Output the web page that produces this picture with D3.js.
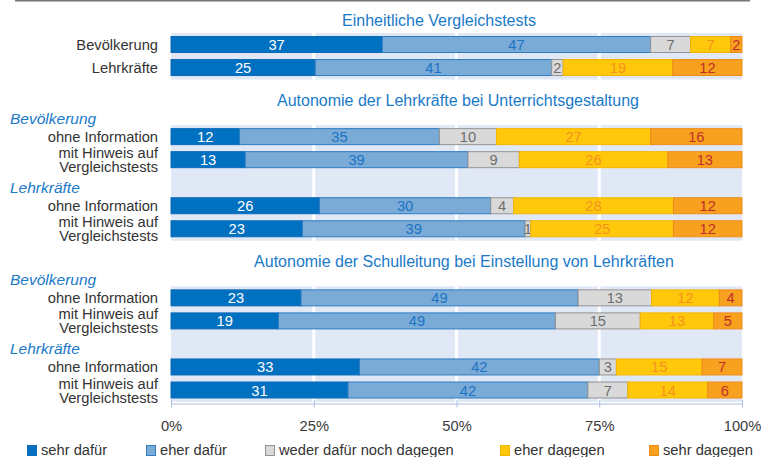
<!DOCTYPE html>
<html>
<head>
<meta charset="utf-8">
<title>Vergleichstests</title>
<script src="https://cdn.jsdelivr.net/npm/d3@7"></script>
<style>
  body { margin: 0; background: #fff; }
  svg text { font-family: "Liberation Sans", Arial, sans-serif; }
</style>
</head>
<body>
<svg id="chart" width="761" height="457"></svg>
<script>
// answer categories (stack order, left to right)
var categories = ["sehr dafür", "eher dafür", "weder dafür noch dagegen", "eher dagegen", "sehr dagegen"];

var sectionTitles = [
  "Einheitliche Vergleichstests",
  "Autonomie der Lehrkräfte bei Unterrichtsgestaltung",
  "Autonomie der Schulleitung bei Einstellung von Lehrkräften"
];

// one entry per bar
var rowSection = [0, 0, 1, 1, 1, 1, 2, 2, 2, 2];
var rowGroup = ["", "", "Bevölkerung", "Bevölkerung", "Lehrkräfte", "Lehrkräfte",
                "Bevölkerung", "Bevölkerung", "Lehrkräfte", "Lehrkräfte"];
var rowLabels = ["Bevölkerung", "Lehrkräfte",
                 "ohne Information", "mit Hinweis auf|Vergleichstests",
                 "ohne Information", "mit Hinweis auf|Vergleichstests",
                 "ohne Information", "mit Hinweis auf|Vergleichstests",
                 "ohne Information", "mit Hinweis auf|Vergleichstests"];

var sehrDafuer  = [37, 25, 12, 13, 26, 23, 23, 19, 33, 31];
var eherDafuer  = [47, 41, 35, 39, 30, 39, 49, 49, 42, 42];
var weder       = [7, 2, 10, 9, 4, 1, 13, 15, 3, 7];
var eherDagegen = [7, 19, 27, 26, 28, 25, 12, 13, 15, 14];
var sehrDagegen = [2, 12, 16, 13, 12, 12, 4, 5, 7, 6];

var tickValues = [0, 0.25, 0.5, 0.75, 1];

// styles
var fill = ["#0070c0", "#7aaad6", "#d9d9d9", "#ffc80b", "#f7a11e"];
var stroke = ["#0a6ab8", "#2e7dc3", "#939393", "#f5b400", "#ef8b1b"];
var textColor = ["#ffffff", "#1b74c5", "#6e6e6e", "#f5921e", "#c0302a"];
var titleX = [439, 458, 464];
var legendX = [27, 146, 265, 500, 649];
var fontSize = 14.7;

var svg = d3.select("#chart");

// build the row slots, with empty slots between sections and groups
var slots = [], rowSlot = [];
for (var i = 0; i < rowLabels.length; ++i) {
  if (i > 0 && rowSection[i] != rowSection[i - 1]) {
    slots.push("gap" + i + "a", "gap" + i + "b");
  } else if (i > 0 && rowGroup[i] != rowGroup[i - 1]) {
    slots.push("gap" + i);
  }
  rowSlot.push("row" + i);
  slots.push("row" + i);
}

var x = d3.scaleLinear().domain([0, 1]).range([171, 742]);
var y = d3.scalePoint().domain(slots).range([44.5, 390]);
var barH = 16;

var table = rowLabels.map(function(l, i) {
  var r = {};
  r[categories[0]] = sehrDafuer[i];
  r[categories[1]] = eherDafuer[i];
  r[categories[2]] = weder[i];
  r[categories[3]] = eherDagegen[i];
  r[categories[4]] = sehrDagegen[i];
  return r;
});
var series = d3.stack().keys(categories).offset(d3.stackOffsetExpand)(table);

// top rule
svg.append("line").attr("x1", 15).attr("x2", 750).attr("y1", 0.75).attr("y2", 0.75)
  .attr("stroke", "#777").attr("stroke-width", 1.5);

// section backgrounds, gridlines and titles
sectionTitles.forEach(function(title, s) {
  var idx = d3.range(rowLabels.length).filter(function(i) { return rowSection[i] == s; });
  var top = y(rowSlot[idx[0]]) - 11.5;
  var bottom = y(rowSlot[idx[idx.length - 1]]) + 12;
  svg.append("rect").attr("x", x(0)).attr("width", x(1) - x(0))
    .attr("y", top).attr("height", bottom - top).attr("fill", "#e1e8f5");
  svg.selectAll(null).data([0.25, 0.5, 0.75]).enter().append("line")
    .attr("x1", function(d) { return x(d); }).attr("x2", function(d) { return x(d); })
    .attr("y1", top).attr("y2", bottom)
    .attr("stroke", "#fff").attr("stroke-width", 3);
  var ty = y(rowSlot[idx[0]]) - 18.5 - (rowGroup[idx[0]] ? 12 : 0);
  svg.append("text").attr("x", titleX[s]).attr("y", ty)
    .attr("text-anchor", "middle").attr("font-size", 16).attr("fill", "#1a7ac8")
    .text(title);
});

// group headers
rowGroup.forEach(function(g, i) {
  if (!g || (i > 0 && rowGroup[i - 1] == g && rowSection[i - 1] == rowSection[i])) return;
  svg.append("text").attr("x", 10).attr("y", y(rowSlot[i]) - 12.5)
    .attr("font-size", 15.5).attr("font-style", "italic").attr("fill", "#1a7ac8")
    .text(g);
});

// row labels
rowLabels.forEach(function(l, i) {
  var lines = l.split("|");
  var cy = y(rowSlot[i]);
  var t = svg.append("text").attr("text-anchor", "end").attr("font-size", fontSize).attr("fill", "#333");
  if (lines.length == 1) {
    t.attr("x", 158).attr("y", cy + 5.5).text(l);
  } else {
    t.append("tspan").attr("x", 158).attr("y", cy - 1.5).text(lines[0]);
    t.append("tspan").attr("x", 158).attr("y", cy + 12.5).text(lines[1]);
  }
});

// stacked bars
var layer = svg.selectAll("g.layer").data(series).enter().append("g").attr("class", "layer");
layer.selectAll("rect").data(function(d) { return d; }).enter().append("rect")
  .attr("x", function(d) { return x(d[0]); })
  .attr("width", function(d) { return x(d[1]) - x(d[0]); })
  .attr("y", function(d, i) { return y(rowSlot[i]) - barH / 2; })
  .attr("height", barH)
  .attr("fill", function() { return fill[d3.select(this.parentNode).datum().index]; })
  .attr("stroke", function() { return stroke[d3.select(this.parentNode).datum().index]; })
  .attr("stroke-width", 1);

layer.selectAll("text").data(function(d) { return d; }).enter().append("text")
  .attr("x", function(d) { return (x(d[0]) + x(d[1])) / 2; })
  .attr("y", function(d, i) { return y(rowSlot[i]) + 5.5; })
  .attr("text-anchor", "middle").attr("font-size", fontSize)
  .attr("fill", function() { return textColor[d3.select(this.parentNode).datum().index]; })
  .text(function(d) { return d.data[d3.select(this.parentNode).datum().key]; });

// x axis
var axis = svg.append("g").attr("transform", "translate(0,403.5)")
  .call(d3.axisBottom(x).tickValues(tickValues).tickFormat(d3.format(".0%"))
    .tickSizeInner(4).tickSizeOuter(0));
axis.attr("font-family", null);
axis.select(".domain").attr("stroke", "#a9bee0");
axis.selectAll(".tick line").attr("y1", -3.5).attr("y2", 4).attr("stroke", "#a9bee0");
axis.selectAll(".tick text").attr("y", 27).attr("dy", 0)
  .attr("font-size", fontSize).attr("fill", "#3a3a3a");

// legend
var legend = svg.selectAll("g.legend").data(categories).enter().append("g")
  .attr("class", "legend")
  .attr("transform", function(d, i) { return "translate(" + legendX[i] + ",0)"; });
legend.append("rect").attr("x", 0.5).attr("y", 445.5).attr("width", 9).attr("height", 10)
  .attr("fill", function(d, i) { return fill[i]; })
  .attr("stroke", function(d, i) { return stroke[i]; });
legend.append("text").attr("x", 14).attr("y", 455).attr("font-size", fontSize).attr("fill", "#333")
  .text(function(d) { return d; });
</script>
</body>
</html>
